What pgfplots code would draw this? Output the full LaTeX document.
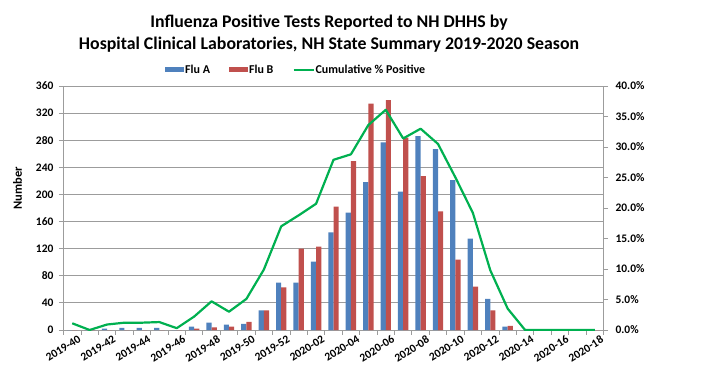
\documentclass[border=0pt]{standalone}
\usepackage{pgfplots}
\pgfplotsset{compat=1.18}
\usepackage{fontspec}
\setmainfont{Carlito}
\definecolor{fluA}{HTML}{4F81BD}
\definecolor{fluB}{HTML}{C0504D}
\definecolor{cumg}{HTML}{00B050}
\definecolor{gridc}{HTML}{9C9C9C}

\pgfplotstableread{
i  a   b
0  0   0
1  0   0
2  2   0
3  3   0
4  3   0
5  3   0
6  0   0
7  5   2
8  11  4
9  8   5
10 9   12
11 29  29
12 70  63
13 70  120
14 101 123
15 144 182
16 173 249
17 218 334
18 277 339
19 204 284
20 286 227
21 267 175
22 221 104
23 135 64
24 46  29
25 5   6
26 0   0
27 0   0
28 0   0
29 0   0
30 0   0
}\flutable

\pgfplotstableread{
i  p
0  1.1
1  0
2  0.9
3  1.2
4  1.2
5  1.3
6  0.3
7  2.2
8  4.7
9  3.0
10 5.1
11 9.9
12 17.0
13 18.8
14 20.7
15 27.9
16 28.8
17 33.6
18 36.1
19 31.4
20 33.0
21 30.5
22 25.0
23 19.2
24 9.8
25 3.5
26 0
27 0
28 0
29 0
30 0
}\pcttable

\begin{document}
\begin{tikzpicture}[x=1pt,y=1pt]
\path (0,0) rectangle (702,370);
\node[align=center,font=\fontsize{17.8}{22}\selectfont\bfseries] at (329,336)
  {Influenza Positive Tests Reported to NH DHHS by\\Hospital Clinical Laboratories, NH State Summary 2019-2020 Season};
\begin{axis}[
  at={(63.5pt,40pt)}, anchor=south west,
  scale only axis, width=540pt, height=244pt,
  xmin=-0.5, xmax=30.5, ymin=0, ymax=360,
  ytick={0,40,...,360},
  ybar=0pt, bar width=5.2pt,
  axis x line*=bottom, axis y line*=left,
  axis line style={gridc, line width=0.8pt},
  ymajorgrids, grid style={gridc, line width=0.8pt},
  tick style={gridc, line width=0.8pt},
  tick align=outside, major tick length=4.5pt,
  xtick={-0.5,0.5,...,30.5}, xticklabels={},
  extra x ticks={0,2,...,30},
  extra x tick labels={2019-40,2019-42,2019-44,2019-46,2019-48,2019-50,2019-52,2020-02,2020-04,2020-06,2020-08,2020-10,2020-12,2020-14,2020-16,2020-18},
  extra x tick style={major tick length=0pt, xticklabel style={rotate=32, anchor=north east, inner sep=1pt, yshift=-6pt, xshift=3pt}},
  ticklabel style={font=\fontsize{11.5}{13}\selectfont\bfseries},
  /pgf/number format/assume math mode=true,
  yticklabel style={xshift=-2pt},
  ylabel={Number},
  every axis y label/.style={at={(axis description cs:-0.085,0.58)}, rotate=90, anchor=center, font=\fontsize{12.5}{14}\selectfont\bfseries},
  legend style={at={(axis description cs:0.43,1.066)}, anchor=center, draw=none, fill=none,
    font=\fontsize{12}{13}\selectfont\bfseries, legend columns=3,
    nodes={inner xsep=1pt, inner ysep=1pt},
    /tikz/every odd column/.append style={column sep=0pt},
    /tikz/every even column/.append style={column sep=18pt}, inner sep=0pt},
  legend cell align=left,
]
\addplot[fill=fluA, draw=none,
  legend image code/.code={\fill[fluA] (0pt,-2.5pt) rectangle (19pt,2.5pt);}]
  table[x=i, y=a] {\flutable};
\addlegendentry{Flu A}
\addplot[fill=fluB, draw=none,
  legend image code/.code={\fill[fluB] (0pt,-2.5pt) rectangle (19pt,2.5pt);}]
  table[x=i, y=b] {\flutable};
\addlegendentry{Flu B}
\addlegendimage{legend image code/.code={\draw[cumg, line width=2.2pt] (0pt,0pt) -- (20pt,0pt);}}
\addlegendentry{Cumulative \% Positive}
\end{axis}
\begin{axis}[
  at={(63.5pt,40pt)}, anchor=south west,
  scale only axis, width=540pt, height=244pt,
  xmin=-0.5, xmax=30.5, ymin=0, ymax=40,
  ytick={0,5,...,40},
  axis x line=none, axis y line*=right,
  axis line style={gridc, line width=0.8pt},
  tick style={gridc, line width=0.8pt},
  tick align=outside, major tick length=4.5pt,
  ticklabel style={font=\fontsize{11.5}{13}\selectfont\bfseries},
  /pgf/number format/assume math mode=true,
  yticklabel={\pgfmathprintnumber[fixed,fixed zerofill,precision=1,assume math mode=true]{\tick}\%},
  yticklabel style={xshift=4pt},
]
\addplot[cumg, line width=2.2pt, no markers, line join=round] table[x=i, y=p] {\pcttable};
\end{axis}
\end{tikzpicture}
\end{document}
